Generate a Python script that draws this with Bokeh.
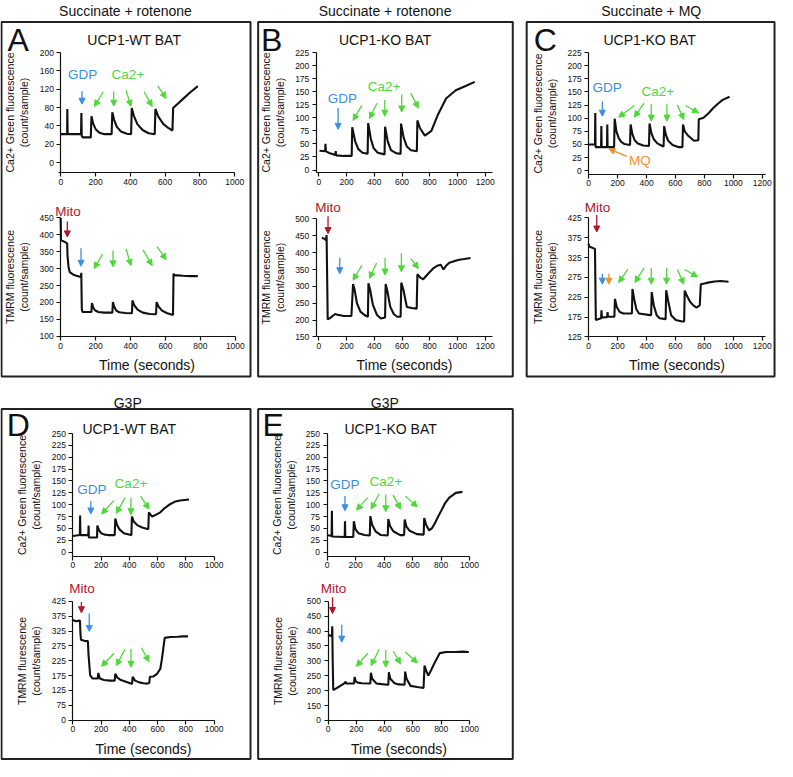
from bokeh.plotting import figure
from bokeh.models import Range1d, LinearAxis, FixedTicker, Label, Arrow, NormalHead
from bokeh.embed import file_html
from bokeh.resources import INLINE

FONT = "Liberation Sans"
REF_W, REF_H = 793, 777
BLUE, GREEN, RED, ORANGE = "#3b8fe3", "#4fd83a", "#b3152b", "#f0902a"

# ---------------- data (time in s, fluorescence in count/sample) ----------------
A_top_t = [0, 36, 37, 39, 116, 118, 120, 126, 172, 176, 186, 200, 222, 250, 292, 296, 306, 322, 345, 380,
           404, 408, 420, 440, 470, 505, 540, 544, 560, 590, 620, 642, 646, 660, 700, 740, 788]
A_top_v = [22, 22, 77, 22, 22, 68, 18, 15, 15, 61, 45, 33, 25, 22, 22, 70, 54, 38, 28, 23,
           22, 79, 62, 44, 31, 24, 22, 77, 61, 44, 35, 30, 79, 84, 98, 112, 127]
A_bot_t = [0, 2, 20, 37, 39, 45, 52, 70, 90, 116, 118, 121, 125, 150, 176, 179, 186, 196, 215, 250,
           296, 299, 306, 318, 335, 370, 408, 411, 420, 440, 470, 510, 546, 549, 560, 580, 610, 643,
           646, 652, 700, 740, 785]
A_bot_v = [450, 384, 380, 375, 340, 305, 290, 283, 279, 275, 288, 180, 172, 172, 172, 198, 185, 177, 172, 170,
           170, 201, 188, 176, 171, 169, 168, 206, 193, 179, 170, 166, 165, 201, 188, 176, 168, 163,
           285, 281, 279, 278, 278]

B_top_t = [5, 45, 48, 51, 80, 118, 122, 125, 180, 237, 241, 262, 285, 315, 352, 356, 375, 395, 425, 474,
           478, 497, 520, 560, 590, 593, 612, 635, 665, 707, 711, 730, 765, 812, 859, 918, 988, 1059, 1125]
B_top_v = [37, 36, 50, 36, 32, 29, 36, 28, 27, 27, 82, 55, 40, 33, 31, 90, 60, 42, 33, 30,
           83, 55, 38, 32, 31, 89, 62, 45, 38, 36, 95, 80, 66, 75, 106, 137, 153, 161, 169]
B_bot_t = [22, 45, 52, 56, 64, 80, 118, 135, 180, 235, 247, 258, 275, 300, 329, 354, 358, 370, 390, 420,
           447, 478, 482, 495, 515, 540, 565, 590, 595, 610, 635, 670, 706, 711, 735, 753, 790, 830,
           859, 880, 899, 920, 941, 980, 1012, 1050, 1094]
B_bot_v = [444, 440, 437, 452, 202, 206, 218, 216, 212, 212, 307, 290, 250, 225, 215, 210, 309, 290, 245, 215,
           205, 208, 307, 285, 240, 218, 210, 210, 311, 290, 239, 236, 234, 336, 325, 321, 338, 355,
           362, 364, 350, 362, 370, 375, 379, 381, 384]

C_top_t = [0, 44, 46, 48, 86, 88, 90, 127, 129, 131, 176, 180, 192, 208, 225, 246, 286, 290, 302, 318,
           340, 377, 417, 421, 433, 450, 475, 509, 518, 522, 534, 550, 580, 619, 648, 652, 664, 690,
           728, 758, 761, 794, 830, 860, 895, 926, 974]
C_top_v = [50, 50, 110, 45, 45, 85, 45, 45, 88, 45, 45, 99, 75, 62, 55, 51, 49, 88, 70, 58,
           52, 48, 47, 90, 72, 60, 52, 47, 46, 85, 68, 57, 49, 45, 45, 88, 75, 66,
           57, 58, 98, 101, 110, 119, 128, 135, 141]
C_bot_t = [0, 4, 44, 47, 50, 86, 89, 92, 128, 131, 134, 178, 182, 195, 215, 240, 299, 303, 315, 330,
           348, 425, 432, 436, 450, 470, 491, 532, 536, 550, 570, 602, 646, 660, 664, 680, 702, 725,
           746, 768, 775, 800, 824, 870, 912, 967]
C_bot_v = [360, 353, 347, 250, 168, 172, 192, 174, 175, 188, 176, 176, 221, 200, 188, 184, 184, 246, 220, 195,
           184, 180, 180, 238, 205, 180, 172, 170, 243, 215, 180, 168, 164, 164, 242, 228, 213, 204,
           199, 205, 258, 260, 262, 265, 266, 264]

D_top_t = [0, 49, 51, 53, 109, 111, 113, 150, 171, 173, 185, 200, 225, 249, 296, 300, 312, 330, 360, 411,
           414, 418, 432, 455, 490, 527, 534, 538, 561, 590, 619, 650, 688, 720, 758, 790, 822]
D_top_v = [34, 36, 77, 36, 36, 56, 31, 31, 31, 56, 46, 40, 37, 36, 36, 71, 58, 48, 40, 36,
           36, 75, 64, 57, 52, 49, 49, 84, 75, 79, 84, 93, 101, 106, 109, 110, 111]
D_bot_t = [0, 20, 50, 53, 57, 80, 106, 110, 122, 140, 176, 180, 190, 220, 260, 296, 300, 315, 340, 365,
           411, 419, 423, 440, 470, 500, 527, 541, 545, 570, 596, 619, 630, 650, 690, 740, 780, 815]
D_bot_v = [362, 358, 360, 320, 296, 292, 291, 250, 176, 165, 165, 184, 165, 160, 158, 158, 181, 168, 160, 156,
           148, 148, 171, 158, 152, 149, 148, 150, 171, 172, 181, 198, 230, 302, 305, 306, 307, 307]

E_top_t = [0, 32, 34, 36, 124, 126, 128, 184, 188, 200, 220, 263, 300, 304, 316, 340, 378, 426, 430, 442,
           465, 513, 541, 545, 557, 580, 630, 678, 682, 695, 716, 735, 755, 780, 801, 830, 858, 904, 950]
E_top_v = [36, 34, 87, 33, 32, 65, 32, 32, 65, 48, 40, 36, 35, 76, 58, 44, 36, 35, 70, 55,
           44, 36, 36, 69, 54, 45, 38, 37, 72, 58, 46, 50, 60, 75, 87, 104, 115, 125, 127]
E_bot_t = [0, 28, 30, 33, 37, 55, 80, 101, 120, 124, 128, 158, 184, 188, 195, 210, 240, 299, 303, 312,
           342, 380, 422, 426, 430, 440, 470, 500, 541, 545, 555, 583, 630, 675, 682, 695, 709, 730,
           755, 789, 835, 900, 950, 995]
E_bot_v = [388, 383, 416, 300, 202, 207, 214, 220, 226, 231, 224, 224, 224, 246, 232, 227, 225, 224, 260, 240,
           224, 222, 220, 220, 262, 240, 225, 221, 220, 264, 240, 216, 212, 209, 284, 265, 251, 270,
           295, 326, 330, 330, 331, 330]

# tick values and their labels
X_TICKS_1000 = [0, 200, 400, 600, 800, 1000]
X_TICKS_1200 = [0, 200, 400, 600, 800, 1000, 1200]
A_top_yticks = [-40, 0, 40, 80, 120, 160, 200]
A_top_ylabels = ["0", "20", "40", "80", "120", "160", "200"]
A_bot_yticks = [100, 150, 200, 250, 300, 350, 400, 450]
B_top_yticks = [0, 25, 50, 75, 100, 125, 150, 175, 200, 225]
B_bot_yticks = [150, 200, 250, 300, 350, 400, 450, 500]
C_top_yticks = [0, 25, 50, 75, 100, 125, 150, 175, 200, 225]
C_bot_yticks = [125, 175, 225, 275, 325, 375, 425]
D_top_yticks = [0, 25, 50, 75, 100, 125, 150, 175, 200, 225, 250]
D_bot_yticks = [25, 75, 125, 175, 225, 275, 325, 375, 425]
D_bot_ylabels = ["0", "75", "125", "175", "225", "275", "325", "375", "425"]
E_top_yticks = [0, 25, 50, 75, 100, 125, 150, 175, 200, 225, 250]
E_bot_yticks = [100, 150, 200, 250, 300, 350, 400, 450, 500]
E_bot_ylabels = ["0", "150", "200", "250", "300", "350", "400", "450", "500"]

CA_LABEL = "Ca2+ Green fluorescence\n(count/sample)"
TMRM_LABEL = "TMRM fluorescence\n(count/sample)"
TMRM_LABEL2 = "TMRM flurescence\n(count/sample)"
TIME_LABEL = "Time (seconds)"

# ---------------- canvas ----------------
p = figure(width=776, height=760, x_range=Range1d(0, REF_W), y_range=Range1d(REF_H, 0),
           min_border=0, x_axis_location=None, y_axis_location=None, toolbar_location=None,
           output_backend="svg", outline_line_color=None, title=None)
p.background_fill_color = "white"
p.border_fill_color = "white"
p.grid.visible = False
for g in list(p.renderers):
    pass

xr, yr = {}, {}


def style_axis(ax):
    ax.axis_line_color = "#111111"
    ax.axis_line_width = 1.2
    ax.major_tick_line_color = "#111111"
    ax.major_tick_line_width = 1.2
    ax.major_tick_out = 4
    ax.major_tick_in = 0
    ax.minor_tick_out = 0
    ax.minor_tick_in = 0
    ax.major_label_text_font = FONT
    ax.major_label_text_font_size = "8.5px"
    ax.major_label_text_color = "#111111"
    ax.axis_label_text_font = FONT
    ax.axis_label_text_font_style = "normal"
    ax.axis_label_text_color = "#111111"


def add_sub(name, xa, ya, t, v, yticks, xticks, ylabel, xlabel, yfix, xfix, ybounds, xbounds, ylabels=None):
    (d0, p0), (d1, p1) = xa
    k = (d1 - d0) / (p1 - p0)
    xr[name] = Range1d(d0 - p0 * k, d0 + (REF_W - p0) * k)
    (v0, q0), (v1, q1) = ya
    k2 = (v1 - v0) / (q1 - q0)
    yr[name] = Range1d(v0 + (REF_H - q0) * k2, v0 - q0 * k2)
    p.line(t, v, x_range_name=name, y_range_name=name, line_color="#111111", line_width=2.1)
    yax = LinearAxis(x_range_name=name, y_range_name=name, fixed_location=yfix, bounds=ybounds,
                     ticker=FixedTicker(ticks=yticks), axis_label=ylabel)
    style_axis(yax)
    yax.major_label_standoff = 3
    yax.axis_label_text_font_size = "10.5px"
    yax.axis_label_standoff = 6
    if ylabels is not None:
        yax.major_label_overrides = {tv: tl for tv, tl in zip(yticks, ylabels)}
    p.add_layout(yax, "left")
    xax = LinearAxis(x_range_name=name, y_range_name=name, fixed_location=xfix, bounds=xbounds,
                     ticker=FixedTicker(ticks=xticks), axis_label=xlabel)
    style_axis(xax)
    xax.major_label_standoff = 2
    xax.axis_label_text_font_size = "14px"
    xax.axis_label_standoff = 5
    p.add_layout(xax, "below")


# panel A
add_sub("At", [(0, 61.7), (1000, 239.3)], [(200, 53.3), (-40, 165.7)], A_top_t, A_top_v,
        A_top_yticks, X_TICKS_1000, CA_LABEL, None, 0, -62, (-62, 200), (-15, 1000), A_top_ylabels)
add_sub("Ab", [(0, 61.5), (1000, 240)], [(450, 222.3), (100, 343.3)], A_bot_t, A_bot_v,
        A_bot_yticks, X_TICKS_1000, TMRM_LABEL, TIME_LABEL, 0, 98, (98, 450), (-10, 1000))
# panel B
add_sub("Bt", [(0, 325.3), (1200, 495.3)], [(225, 53.3), (0, 173.3)], B_top_t, B_top_v,
        B_top_yticks, X_TICKS_1200, CA_LABEL, None, -18, -5, (-5, 225), (-18, 1250))
add_sub("Bb", [(0, 325.3), (1200, 495.3)], [(500, 223.3), (150, 344)], B_bot_t, B_bot_v,
        B_bot_yticks, X_TICKS_1200, TMRM_LABEL, TIME_LABEL, -18, 150, (150, 500), (-18, 1250))
# panel C
add_sub("Ct", [(0, 601), (1200, 778.5)], [(225, 53.3), (0, 174)], C_top_t, C_top_v,
        C_top_yticks, X_TICKS_1200, CA_LABEL, None, 0, -7, (-7, 225), (0, 1220))
add_sub("Cb", [(0, 601), (1200, 778.5)], [(425, 222.3), (125, 344)], C_bot_t, C_bot_v,
        C_bot_yticks, X_TICKS_1200, TMRM_LABEL, TIME_LABEL, 0, 125, (125, 425), (0, 1220))
# panel D
add_sub("Dt", [(0, 74), (1000, 218.3)], [(250, 442.7), (0, 564)], D_top_t, D_top_v,
        D_top_yticks, X_TICKS_1000, CA_LABEL, None, 0, -9, (-9, 250), (0, 1000))
add_sub("Db", [(0, 74), (1000, 218.3)], [(425, 614.3), (25, 735.7)], D_bot_t, D_bot_v,
        D_bot_yticks, X_TICKS_1000, TMRM_LABEL2, TIME_LABEL, 0, 25, (25, 425), (0, 1000), D_bot_ylabels)
# panel E
add_sub("Et", [(0, 333.7), (1000, 479.3)], [(250, 442.7), (0, 564)], E_top_t, E_top_v,
        E_top_yticks, X_TICKS_1000, CA_LABEL, None, 0, -9, (-9, 250), (0, 1000))
add_sub("Eb", [(0, 334.7), (1000, 479.3)], [(500, 614.3), (100, 736)], E_bot_t, E_bot_v,
        E_bot_yticks, X_TICKS_1000, TMRM_LABEL2, TIME_LABEL, 0, 100, (100, 500), (0, 1000), E_bot_ylabels)

p.extra_x_ranges = xr
p.extra_y_ranges = yr

# panel frames
BOXES = [(1, 255.5, 22, 384.5), (263.3, 523.5, 22, 384.5), (537.7, 791, 22, 384.5),
         (1, 255.5, 417.7, 775.5), (263.3, 523.5, 417.7, 775.5)]
p.quad(left=[b[0] for b in BOXES], right=[b[1] for b in BOXES],
       top=[b[2] for b in BOXES], bottom=[b[3] for b in BOXES],
       fill_color=None, line_color="#222222", line_width=2)

# texts: (text, x, y, size, color)
TEXTS = [
    ("Succinate + rotenone", 127.7, 11, "14px", "#111111"),
    ("Succinate + rotenone", 393, 11, "14px", "#111111"),
    ("Succinate + MQ", 665, 11, "14px", "#111111"),
    ("G3P", 130, 411.7, "14px", "#111111"),
    ("G3P", 392.7, 411.7, "14px", "#111111"),
    ("A", 18, 40, "32px", "#111111"), ("B", 277, 40, "32px", "#111111"),
    ("C", 556.7, 40, "32px", "#111111"), ("D", 18.3, 434.3, "32px", "#111111"),
    ("E", 278.7, 434.3, "32px", "#111111"),
    ("UCP1-WT BAT", 136.7, 40, "14px", "#111111"), ("UCP1-KO BAT", 393, 40, "14px", "#111111"),
    ("UCP1-KO BAT", 663.3, 40, "14px", "#111111"), ("UCP1-WT BAT", 131.7, 438.3, "14px", "#111111"),
    ("UCP1-KO BAT", 398.7, 438.3, "14px", "#111111"),
    ("GDP", 84, 76, "13.5px", BLUE), ("Ca2+", 130, 76, "13.5px", GREEN), ("Mito", 69, 216, "13.5px", RED),
    ("GDP", 349.3, 100.7, "13.5px", BLUE), ("Ca2+", 392, 88.3, "13.5px", GREEN), ("Mito", 334.7, 211.7, "13.5px", RED),
    ("GDP", 620, 89.3, "13.5px", BLUE), ("Ca2+", 671.7, 93.3, "13.5px", GREEN), ("MQ", 653.3, 164, "13.5px", ORANGE),
    ("Mito", 610, 211.7, "13.5px", RED),
    ("GDP", 93.3, 500, "13.5px", BLUE), ("Ca2+", 133.3, 493.3, "13.5px", GREEN), ("Mito", 83.3, 601, "13.5px", RED),
    ("GDP", 352, 495, "13.5px", BLUE), ("Ca2+", 393.7, 491.7, "13.5px", GREEN), ("Mito", 340.3, 601, "13.5px", RED),
]
for txt, x, y, sz, col in TEXTS:
    p.add_layout(Label(x=x, y=y, text=txt, text_align="center", text_baseline="middle",
                       text_font=FONT, text_font_size=sz, text_color=col))

# arrows: (x0, y0, x1, y1, color)
ARROWS = [
    # A top
    (83.3, 92.7, 83.3, 106, BLUE), (105, 93.3, 96, 108.3, GREEN), (115.7, 93, 115.7, 108, GREEN),
    (128.3, 91.7, 133.3, 108.3, GREEN), (146.7, 93.3, 155, 108.3, GREEN), (160.7, 87.3, 169.3, 100, GREEN),
    # A bottom
    (68.3, 226, 68.3, 241.7, RED), (82.3, 253.3, 82.3, 271.7, BLUE), (104.3, 259.3, 95.7, 274, GREEN),
    (115, 255.3, 115, 272.3, GREEN), (128.3, 254, 133.3, 271, GREEN), (145.7, 255, 155, 271, GREEN),
    (160, 251.7, 169.3, 265, GREEN),
    # B top
    (345, 110, 345, 131.7, BLUE), (369.3, 107.3, 360.3, 122.7, GREEN), (384.7, 105, 377, 120.7, GREEN),
    (392.7, 101.7, 392.7, 118.3, GREEN), (410, 96, 410, 114, GREEN), (419.3, 95, 427, 110, GREEN),
    # B bottom
    (334.7, 220.7, 334.7, 238.3, RED), (346.7, 262.7, 346.7, 279.3, BLUE), (369.3, 270.7, 360.3, 286, GREEN),
    (384.3, 268.3, 377, 284, GREEN), (393, 263.3, 393, 280.7, GREEN), (409.7, 258.3, 409.7, 277.3, GREEN),
    (419.3, 264, 427, 274, GREEN),
    # C top
    (615, 103.3, 615, 118.3, BLUE), (647.7, 107.3, 631.7, 119.3, GREEN), (657.7, 105, 647.7, 119.3, GREEN),
    (665, 106, 665, 123.3, GREEN), (681, 106, 681, 123.3, GREEN), (691.7, 106.7, 698.3, 121.7, GREEN),
    (700, 107.3, 713.3, 115, GREEN), (640, 159.3, 621.7, 151.7, ORANGE),
    # C bottom
    (609.3, 219.3, 609.3, 236.7, RED), (615, 279.3, 615, 290, BLUE), (621.7, 279.3, 621.7, 290, ORANGE),
    (641, 275, 631.7, 288.3, GREEN), (657.7, 273.3, 648.3, 288.3, GREEN), (665, 273.3, 665, 290, GREEN),
    (680.7, 273.3, 680.7, 290, GREEN), (691.7, 275, 698.3, 290, GREEN), (699.3, 275, 712.3, 282.7, GREEN),
    # D top
    (92.3, 511.7, 92.3, 525, BLUE), (116, 511, 103.3, 525, GREEN), (127.3, 508.3, 118.3, 524.3, GREEN),
    (133.3, 508.3, 133.3, 525.7, GREEN), (143.3, 506.7, 151.7, 520, GREEN),
    # D bottom
    (82.7, 615, 82.7, 626, RED), (90.7, 626.7, 90.7, 645, BLUE), (116, 667.3, 103.3, 680.7, GREEN),
    (127.3, 663.3, 118.3, 680, GREEN), (133.3, 662.7, 133.3, 681.7, GREEN), (144, 661.7, 151.7, 676, GREEN),
    # E top
    (352, 506.7, 352, 521.7, BLUE), (375.3, 508.3, 363.7, 521, GREEN), (387, 504.3, 378.7, 520, GREEN),
    (393.7, 505, 393.7, 522.7, GREEN), (401.3, 505.7, 408.7, 520, GREEN), (413.7, 506.7, 426, 517.7, GREEN),
    # E bottom
    (339.3, 610, 339.3, 626.7, RED), (348.7, 638.3, 348.7, 656, BLUE), (375.3, 667.3, 363.7, 680.7, GREEN),
    (387, 663.3, 378.7, 680, GREEN), (393.7, 664, 393.7, 681.7, GREEN), (401.3, 665, 408.7, 678.3, GREEN),
    (413.7, 666, 426, 677.3, GREEN),
]
for x0, y0, x1, y1, col in ARROWS:
    p.add_layout(Arrow(x_start=x0, y_start=y0, x_end=x1, y_end=y1, line_color=col, line_width=1.3,
                       end=NormalHead(size=6, fill_color=col, line_color=col, line_width=1)))

open("out.html", "w").write(file_html(p, INLINE))
